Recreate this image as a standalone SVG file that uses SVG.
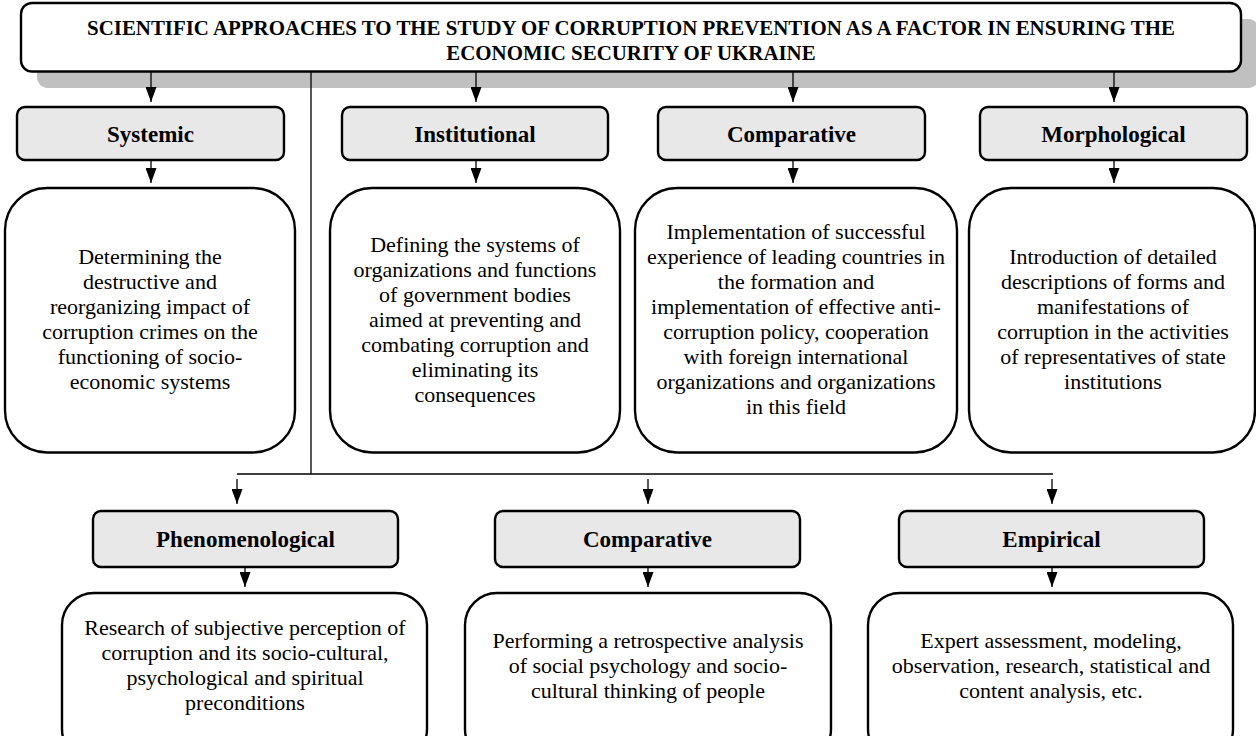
<svg xmlns="http://www.w3.org/2000/svg" width="1256" height="736" viewBox="0 0 1256 736">
<style>
.bg{fill:#ffffff}
.shadow{fill:#c0c0c0;stroke:none}
.title{fill:#ffffff;stroke:#000;stroke-width:2.4}
.hdr{fill:#e8e8e8;stroke:#000;stroke-width:2.4}
.box{fill:#ffffff;stroke:#000;stroke-width:2.4}
.t-title{font-family:"Liberation Serif","Times New Roman",serif;font-weight:bold;font-size:20.9px;fill:#000;text-anchor:middle}
.t-hdr{font-family:"Liberation Serif","Times New Roman",serif;font-weight:bold;font-size:23px;fill:#000;text-anchor:middle}
.t-body{font-family:"Liberation Serif","Times New Roman",serif;font-size:22px;fill:#000;text-anchor:middle}
.conn{stroke:#000;stroke-width:1.3;fill:none}
.arr{stroke:#000;stroke-width:1.3;fill:none;marker-end:url(#ah)}
</style>
<defs>
<marker id="ah" markerUnits="userSpaceOnUse" viewBox="0 0 15 11" refX="15" refY="5.5" markerWidth="15" markerHeight="11" orient="auto">
<path d="M0,0 L15,5.5 L0,11 Z" fill="#000"/>
</marker>
</defs>
<rect class="bg" x="0" y="0" width="1256" height="736"/>

<g id="title">
<rect class="shadow" x="37" y="19" width="1222" height="69" rx="11"/>
<rect class="title" x="21" y="3" width="1220" height="68.5" rx="11"/>
<text class="t-title" x="631" y="35">SCIENTIFIC APPROACHES TO THE STUDY OF CORRUPTION PREVENTION AS A FACTOR IN ENSURING THE</text>
<text class="t-title" x="631" y="60">ECONOMIC SECURITY OF UKRAINE</text>
</g>

<g id="connectors">
<line class="arr" x1="151" y1="72" x2="151" y2="102"/>
<line class="arr" x1="476" y1="72" x2="476" y2="102"/>
<line class="arr" x1="793" y1="72" x2="793" y2="102"/>
<line class="arr" x1="1114" y1="72" x2="1114" y2="102"/>
<line class="arr" x1="151" y1="161" x2="151" y2="183"/>
<line class="arr" x1="476" y1="161" x2="476" y2="183"/>
<line class="arr" x1="793" y1="161" x2="793" y2="183"/>
<line class="arr" x1="1114" y1="161" x2="1114" y2="183"/>
<line class="conn" x1="311" y1="72" x2="311" y2="474"/>
<line class="conn" x1="237" y1="474" x2="1053" y2="474"/>
<line class="arr" x1="237" y1="479" x2="237" y2="504"/>
<line class="arr" x1="648" y1="479" x2="648" y2="504"/>
<line class="arr" x1="1052" y1="479" x2="1052" y2="504"/>
<line class="arr" x1="245" y1="568" x2="245" y2="587"/>
<line class="arr" x1="648" y1="568" x2="648" y2="587"/>
<line class="arr" x1="1052" y1="568" x2="1052" y2="587"/>
</g>

<g id="systemic">
<rect class="hdr" x="17" y="107" width="267" height="53" rx="8"/>
<text class="t-hdr" x="150.5" y="141.5">Systemic</text>
</g>
<g id="systemic-desc">
<rect class="box" x="5" y="188" width="290" height="264.5" rx="42"/>
<text class="t-body"><tspan x="150" y="264">Determining the</tspan><tspan x="150" y="289">destructive and</tspan><tspan x="150" y="314">reorganizing impact of</tspan><tspan x="150" y="339">corruption crimes on the</tspan><tspan x="150" y="364">functioning of socio-</tspan><tspan x="150" y="389">economic systems</tspan></text>
</g>

<g id="institutional">
<rect class="hdr" x="342" y="107" width="266" height="53" rx="8"/>
<text class="t-hdr" x="475" y="141.5">Institutional</text>
</g>
<g id="institutional-desc">
<rect class="box" x="330" y="188" width="290" height="264.5" rx="42"/>
<text class="t-body"><tspan x="475" y="251.5">Defining the systems of</tspan><tspan x="475" y="276.5">organizations and functions</tspan><tspan x="475" y="301.5">of government bodies</tspan><tspan x="475" y="326.5">aimed at preventing and</tspan><tspan x="475" y="351.5">combating corruption and</tspan><tspan x="475" y="376.5">eliminating its</tspan><tspan x="475" y="401.5">consequences</tspan></text>
</g>

<g id="comparative">
<rect class="hdr" x="658" y="107" width="267" height="53" rx="8"/>
<text class="t-hdr" x="791.5" y="141.5">Comparative</text>
</g>
<g id="comparative-desc">
<rect class="box" x="635" y="188" width="322" height="264.5" rx="42"/>
<text class="t-body"><tspan x="796" y="239">Implementation of successful</tspan><tspan x="796" y="264">experience of leading countries in</tspan><tspan x="796" y="289">the formation and</tspan><tspan x="796" y="314">implementation of effective anti-</tspan><tspan x="796" y="339">corruption policy, cooperation</tspan><tspan x="796" y="364">with foreign international</tspan><tspan x="796" y="389">organizations and organizations</tspan><tspan x="796" y="414">in this field</tspan></text>
</g>

<g id="morphological">
<rect class="hdr" x="980" y="107" width="267" height="53" rx="8"/>
<text class="t-hdr" x="1113.5" y="141.5">Morphological</text>
</g>
<g id="morphological-desc">
<rect class="box" x="969" y="188" width="286" height="264.5" rx="42"/>
<text class="t-body"><tspan x="1113" y="264">Introduction of detailed</tspan><tspan x="1113" y="289">descriptions of forms and</tspan><tspan x="1113" y="314">manifestations of</tspan><tspan x="1113" y="339">corruption in the activities</tspan><tspan x="1113" y="364">of representatives of state</tspan><tspan x="1113" y="389">institutions</tspan></text>
</g>

<g id="phenomenological">
<rect class="hdr" x="93" y="511" width="305" height="56" rx="8"/>
<text class="t-hdr" x="245.5" y="547">Phenomenological</text>
</g>
<g id="phenomenological-desc">
<rect class="box" x="62" y="593" width="365" height="168" rx="32"/>
<text class="t-body"><tspan x="245" y="635">Research of subjective perception of</tspan><tspan x="245" y="660">corruption and its socio-cultural,</tspan><tspan x="245" y="685">psychological and spiritual</tspan><tspan x="245" y="710">preconditions</tspan></text>
</g>

<g id="comparative-2">
<rect class="hdr" x="495" y="511" width="305" height="56" rx="8"/>
<text class="t-hdr" x="647.5" y="547">Comparative</text>
</g>
<g id="comparative-2-desc">
<rect class="box" x="465" y="593" width="366" height="168" rx="32"/>
<text class="t-body"><tspan x="648" y="648">Performing a retrospective analysis</tspan><tspan x="648" y="673">of social psychology and socio-</tspan><tspan x="648" y="698">cultural thinking of people</tspan></text>
</g>

<g id="empirical">
<rect class="hdr" x="899" y="511" width="305" height="56" rx="8"/>
<text class="t-hdr" x="1051.5" y="547">Empirical</text>
</g>
<g id="empirical-desc">
<rect class="box" x="868" y="593" width="365" height="168" rx="32"/>
<text class="t-body"><tspan x="1051" y="648">Expert assessment, modeling,</tspan><tspan x="1051" y="673">observation, research, statistical and</tspan><tspan x="1051" y="698">content analysis, etc.</tspan></text>
</g>
</svg>
